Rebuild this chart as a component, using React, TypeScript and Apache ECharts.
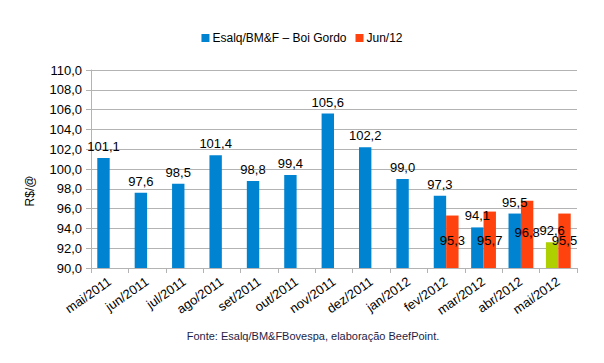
import React, { useEffect, useRef } from "react";
import * as echarts from "echarts";

const categories = [
  "mai/2011", "jun/2011", "jul/2011", "ago/2011", "set/2011", "out/2011", "nov/2011",
  "dez/2011", "jan/2012", "fev/2012", "mar/2012", "abr/2012", "mai/2012",
];
const esalqValues = [101.1, 97.6, 98.5, 101.4, 98.8, 99.4, 105.6, 102.2, 99.0, 97.3, 94.1, 95.5, 92.6];
const jun12Values: (number | null)[] = [null, null, null, null, null, null, null, null, null, 95.3, 95.7, 96.8, 95.5];
const seriesNames = ["Esalq/BM&F – Boi Gordo", "Jun/12"];
const yTicks = { min: 90, max: 110, interval: 2 };
const axisName = "R$/@";
const sourceNote = "Fonte: Esalq/BM&FBovespa, elaboração BeefPoint.";

const BLUE = "#0084d1";
const ORANGE = "#ff420e";
const GREEN = "#aecf00";
const GRAY = "#b3b3b3";
const FONT = "'Liberation Sans', Arial, sans-serif";

const fmt = (v: number) => v.toFixed(1).replace(".", ",");

export default function App() {
  const ref = useRef<HTMLDivElement>(null);
  useEffect(() => {
    if (!ref.current) return;
    const chart = echarts.init(ref.current, undefined, { renderer: "svg" });
    const lastIdx = esalqValues.length - 1;
    const maxJun = Math.max(...(jun12Values.filter((v) => v != null) as number[]));
    chart.setOption({
      animation: false,
      textStyle: { fontFamily: FONT },
      legend: {
        top: 27,
        left: "center",
        itemWidth: 8,
        itemHeight: 8,
        itemGap: 9,
        icon: "rect",
        textStyle: { fontSize: 12, color: "#000", fontFamily: FONT, padding: [0, 0, 0, -2] },
        data: seriesNames,
      },
      grid: { left: 91, right: 27, top: 70, bottom: 95 },
      xAxis: {
        type: "category",
        data: categories,
        axisLine: { lineStyle: { color: GRAY } },
        axisTick: { show: true, length: 5, lineStyle: { color: GRAY } },
        axisLabel: { interval: 0, rotate: 35, fontSize: 13, color: "#000", margin: 12, fontFamily: FONT },
        splitLine: { show: false },
      },
      yAxis: {
        type: "value",
        min: yTicks.min,
        max: yTicks.max,
        interval: yTicks.interval,
        axisLine: { show: true, lineStyle: { color: GRAY } },
        axisTick: { show: true, length: 5, lineStyle: { color: GRAY } },
        axisLabel: { fontSize: 13, color: "#000", margin: 9, formatter: (v: number) => fmt(v), fontFamily: FONT },
        splitLine: { lineStyle: { color: GRAY } },
      },
      series: [
        {
          name: seriesNames[0],
          type: "bar",
          barWidth: 12.4,
          barGap: "0%",
          itemStyle: { color: BLUE },
          data: esalqValues.map((v, i) =>
            i === lastIdx ? { value: v, itemStyle: { color: GREEN } } : v
          ),
          label: {
            show: true,
            position: "top",
            distance: 5,
            fontSize: 13,
            color: "#000",
            fontFamily: FONT,
            formatter: (p: any) => fmt(p.value),
          },
        },
        {
          name: seriesNames[1],
          type: "bar",
          barWidth: 12.4,
          barGap: "0%",
          itemStyle: { color: ORANGE },
          data: jun12Values.map((v) =>
            v == null
              ? null
              : v === maxJun
              ? { value: v, label: { distance: 29 } }
              : v
          ),
          label: {
            show: true,
            position: "insideBottom",
            distance: 21,
            fontSize: 13,
            color: "#000",
            fontFamily: FONT,
            formatter: (p: any) => fmt(p.value),
          },
        },
      ],
      graphic: [
        {
          type: "text",
          x: 30,
          y: 191,
          rotation: Math.PI / 2,
          style: {
            text: axisName,
            font: `12px ${FONT}`,
            fill: "#000",
            align: "center",
            verticalAlign: "middle",
          },
        },
        {
          type: "text",
          x: 313,
          y: 336,
          style: {
            text: sourceNote,
            font: `11px ${FONT}`,
            fill: "#1e1e46",
            align: "center",
            verticalAlign: "middle",
          },
        },
      ],
    });
    return () => chart.dispose();
  }, []);
  return <div ref={ref} style={{ width: 604, height: 363, position: "absolute", left: 0, top: 0 }} />;
}
